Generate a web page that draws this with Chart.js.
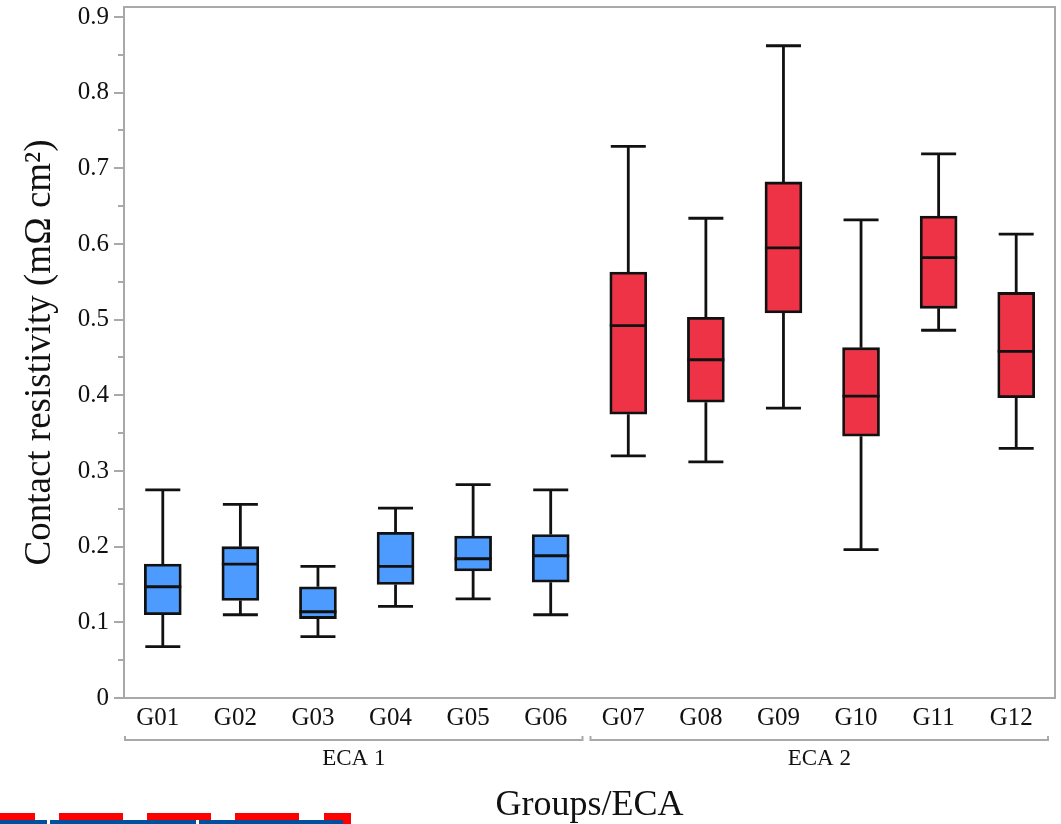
<!DOCTYPE html>
<html>
<head>
<meta charset="utf-8">
<script src="https://cdn.jsdelivr.net/npm/chart.js@4/dist/chart.umd.min.js"></script>
<style>
  html, body { margin: 0; padding: 0; background: #fff; }
  #wrap { position: relative; width: 1061px; height: 824px; overflow: hidden; }
  canvas { display: block; }
  .deco { position: absolute; }
</style>
</head>
<body>
<div id="wrap">
  <canvas id="c" width="1061" height="824"></canvas>
  <div class="deco" style="left:0;top:813px;width:35px;height:7px;background:#ff0000"></div>
  <div class="deco" style="left:59px;top:813px;width:64px;height:7px;background:#ff0000"></div>
  <div class="deco" style="left:147px;top:813px;width:64px;height:7px;background:#ff0000"></div>
  <div class="deco" style="left:235px;top:813px;width:64px;height:7px;background:#ff0000"></div>
  <div class="deco" style="left:324px;top:813px;width:27px;height:7px;background:#ff0000"></div>
  <div class="deco" style="left:343px;top:813px;width:8px;height:11px;background:#ff0000"></div>
  <div class="deco" style="left:0;top:820px;width:47px;height:4px;background:#0050a0"></div>
  <div class="deco" style="left:50px;top:820px;width:146px;height:4px;background:#0050a0"></div>
  <div class="deco" style="left:199px;top:820px;width:144px;height:4px;background:#0050a0"></div>
</div>
<script>
// ---- data ----
const categories = ['G01','G02','G03','G04','G05','G06','G07','G08','G09','G10','G11','G12'];
const groupLabels = ['ECA 1', 'ECA 2'];
const groupSizes = [6, 6];
const whiskerLow  = [0.068, 0.110, 0.081, 0.121, 0.131, 0.110, 0.320, 0.312, 0.383, 0.196, 0.486, 0.330];
const quartile1   = [0.110, 0.129, 0.105, 0.150, 0.168, 0.153, 0.375, 0.391, 0.509, 0.346, 0.515, 0.397];
const medians     = [0.147, 0.177, 0.114, 0.174, 0.184, 0.188, 0.492, 0.447, 0.595, 0.399, 0.582, 0.458];
const quartile3   = [0.177, 0.200, 0.147, 0.219, 0.214, 0.216, 0.563, 0.503, 0.682, 0.463, 0.637, 0.536];
const whiskerHigh = [0.275, 0.256, 0.174, 0.251, 0.282, 0.275, 0.729, 0.634, 0.862, 0.632, 0.719, 0.613];
const yTicks = [0, 0.1, 0.2, 0.3, 0.4, 0.5, 0.6, 0.7, 0.8, 0.9];
const yTickLabels = ['0','0.1','0.2','0.3','0.4','0.5','0.6','0.7','0.8','0.9'];
const yMinorTicks = [0.05, 0.15, 0.25, 0.35, 0.45, 0.55, 0.65, 0.75, 0.85];

// ---- styling ----
const groupColors = ['#4d9bff', '#ee3347'];
const AXIS = '#a9a9a9';
const FONT = '"Liberation Serif", "Times New Roman", serif';

const groupIndex = [];
groupSizes.forEach((n, g) => { for (let k = 0; k < n; k++) groupIndex.push(g); });
const barColors = groupIndex.map(g => groupColors[g]);

const boxPlugin = {
  id: 'boxWhiskers',
  afterDatasetsDraw(chart) {
    const meta = chart.getDatasetMeta(0);
    const ys = chart.scales.y;
    const ctx = chart.ctx;
    ctx.save();
    ctx.strokeStyle = '#111';
    ctx.lineWidth = 2.8;
    meta.data.forEach((bar, i) => {
      const p = bar.getProps(['x', 'width'], true);
      const half = p.width / 2;
      const pMin = ys.getPixelForValue(whiskerLow[i]);
      const pQ1 = ys.getPixelForValue(quartile1[i]);
      const pMed = ys.getPixelForValue(medians[i]);
      const pQ3 = ys.getPixelForValue(quartile3[i]);
      const pMax = ys.getPixelForValue(whiskerHigh[i]);
      ctx.beginPath();
      ctx.moveTo(p.x, pQ3); ctx.lineTo(p.x, pMax);
      ctx.moveTo(p.x - half + 1, pMax); ctx.lineTo(p.x + half - 1, pMax);
      ctx.moveTo(p.x, pQ1); ctx.lineTo(p.x, pMin);
      ctx.moveTo(p.x - half + 1, pMin); ctx.lineTo(p.x + half - 1, pMin);
      ctx.moveTo(p.x - half, pMed); ctx.lineTo(p.x + half, pMed);
      ctx.stroke();
    });
    ctx.restore();
  }
};

const framePlugin = {
  id: 'frame',
  afterDraw(chart) {
    const ctx = chart.ctx;
    const a = chart.chartArea;
    const xs = chart.scales.x;
    const ys = chart.scales.y;
    ctx.save();
    ctx.strokeStyle = AXIS;
    ctx.lineWidth = 2;
    // top and right frame
    ctx.beginPath();
    ctx.moveTo(a.left, a.top); ctx.lineTo(a.right, a.top); ctx.lineTo(a.right, a.bottom);
    ctx.stroke();
    // minor ticks
    ctx.beginPath();
    yMinorTicks.forEach(v => {
      const py = Math.round(ys.getPixelForValue(v));
      ctx.moveTo(a.left - 6, py); ctx.lineTo(a.left, py);
    });
    ctx.stroke();
    // group brackets
    const catW = xs.getPixelForValue(1) - xs.getPixelForValue(0);
    const by = 740;
    let start = 0;
    ctx.font = '23px ' + FONT;
    ctx.textAlign = 'center';
    ctx.textBaseline = 'middle';
    groupSizes.forEach((n, g) => {
      const x0 = xs.getPixelForValue(start) - catW / 2 + 1;
      const x1 = xs.getPixelForValue(start + n - 1) + catW / 2 - 7;
      ctx.strokeStyle = AXIS;
      ctx.beginPath();
      ctx.moveTo(x0, by - 4); ctx.lineTo(x0, by); ctx.lineTo(x1, by); ctx.lineTo(x1, by - 4);
      ctx.stroke();
      ctx.fillStyle = '#111';
      ctx.fillText(groupLabels[g], (x0 + x1) / 2, 759);
      start += n;
    });
    ctx.restore();
  }
};

new Chart(document.getElementById('c'), {
  type: 'bar',
  data: {
    labels: categories,
    datasets: [{
      data: quartile1.map((q, i) => [q, quartile3[i]]),
      backgroundColor: barColors,
      borderColor: '#111',
      borderWidth: 2.8,
      borderSkipped: false,
      barThickness: 37
    }]
  },
  options: {
    responsive: false,
    animation: false,
    devicePixelRatio: 1,
    layout: { padding: { top: 7, right: 6, left: 0, bottom: 0 } },
    plugins: { legend: { display: false }, tooltip: { enabled: false }, title: { display: false } },
    scales: {
      x: {
        grid: { display: false, drawTicks: false },
        border: { display: true, color: AXIS, width: 2 },
        ticks: { color: '#111', font: { family: FONT, size: 25 }, padding: 5, labelOffset: -5, maxRotation: 0, autoSkip: false },
        title: { display: true, text: 'Groups/ECA', color: '#111', font: { family: FONT, size: 36 }, padding: { bottom: -3, top: 0 } },
        afterFit(scale) { scale.height = 126; scale.paddingLeft = 0; scale.paddingRight = 0; }
      },
      y: {
        min: 0,
        max: 0.9132,
        afterBuildTicks(scale) { scale.ticks = yTicks.map(v => ({ value: v })); },
        grid: { display: true, drawOnChartArea: false, drawTicks: true, tickLength: 10, color: AXIS, lineWidth: 2 },
        border: { display: true, color: AXIS, width: 2 },
        ticks: { color: '#111', font: { family: FONT, size: 25 }, padding: 5,
                 callback: (v, i) => yTickLabels[i] },
        title: { display: true, text: 'Contact resistivity (mΩ cm²)', color: '#111', font: { family: FONT, size: 37 }, padding: { top: 18, bottom: 0 } },
        afterFit(scale) { scale.width = 124; scale.paddingTop = 0; scale.paddingBottom = 0; }
      }
    }
  },
  plugins: [boxPlugin, framePlugin]
});
</script>
</body>
</html>
